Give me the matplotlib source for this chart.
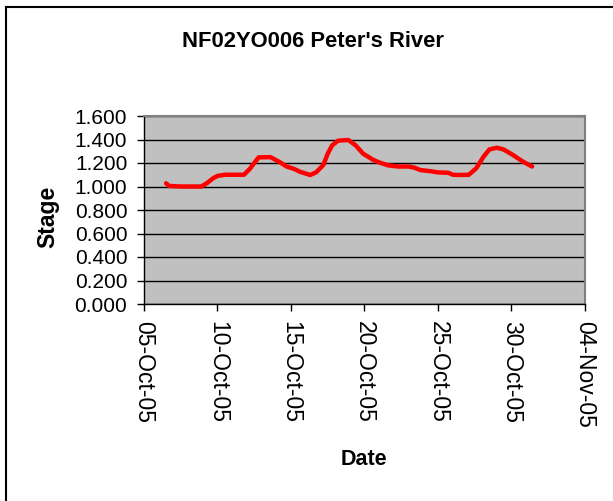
import numpy as np
import pandas as pd
import matplotlib
matplotlib.use("Agg")
import matplotlib.pyplot as plt
import matplotlib.dates as mdates
from matplotlib.lines import Line2D

plt.rcParams['font.family'] = ['Liberation Sans', 'DejaVu Sans']

# days after 05-Oct-2005 and stage
days = [1.5, 1.7, 2.5, 3.5, 3.9, 4.3, 4.7, 5.0, 5.5, 6.0, 6.8, 7.2, 7.5, 7.8,
        8.6, 9.2, 9.7, 10.2, 10.6, 11.0, 11.3, 11.7, 12.2, 12.5, 12.8, 13.2,
        13.9, 14.4, 14.9, 15.6, 16.0, 16.6, 17.3, 18.0, 18.4, 18.8, 19.5,
        20.0, 20.7, 21.0, 21.5, 22.1, 22.6, 23.1, 23.5, 24.0, 24.45, 25.1,
        25.8, 26.4]
stage = [1.027, 1.005, 1.0, 1.0, 1.0, 1.03, 1.07, 1.09, 1.1, 1.1, 1.1, 1.15,
         1.2, 1.248, 1.25, 1.21, 1.17, 1.15, 1.126, 1.11, 1.098, 1.12, 1.183,
         1.28, 1.35, 1.39, 1.396, 1.35, 1.28, 1.226, 1.205, 1.18, 1.17, 1.17,
         1.16, 1.14, 1.13, 1.12, 1.117, 1.1, 1.098, 1.1, 1.155, 1.254, 1.316,
         1.33, 1.316, 1.268, 1.21, 1.17]

start = pd.Timestamp("2005-10-05")
dates = [start + pd.Timedelta(days=d) for d in days]
tick_dates = pd.date_range("2005-10-05", "2005-11-04", freq="5D")
y_ticks = np.arange(0, 1.61, 0.2)

fig = plt.figure(figsize=(6.13, 5.01), dpi=100)
ax = fig.add_axes([144/613, 1 - 304/501, 441/613, 188/501])
ax.set_facecolor("#c0c0c0")

ax.plot(dates, stage, color="red", lw=3.2, solid_capstyle="round",
        solid_joinstyle="round", zorder=3)

ax.set_xlim(tick_dates[0], tick_dates[-1])
ax.set_ylim(0, 1.6)
ax.set_xticks(tick_dates)
ax.xaxis.set_major_formatter(mdates.DateFormatter("%d-%b-%y"))
ax.set_yticks(y_ticks)
ax.set_yticklabels([f"{v:.3f}" for v in y_ticks])
ax.tick_params(axis="x", labelsize=16.5, rotation=270, direction="out",
               length=5, width=1, pad=7)
ax.tick_params(axis="y", labelsize=15, direction="out", length=5, width=1,
               pad=7)
for lab in ax.get_xticklabels():
    lab.set_va("top")
    lab.set_ha("center")

ax.grid(axis="y", color="black", lw=1)
ax.set_axisbelow(True)
for s in ("top", "right"):
    ax.spines[s].set_color("#808080")
    ax.spines[s].set_linewidth(1.5)
for s in ("left", "bottom"):
    ax.spines[s].set_color("black")
    ax.spines[s].set_linewidth(1)

fig.text(313/613, 1 - 47/501, "NF02YO006 Peter's River", ha="center",
         va="baseline", fontsize=15.8, fontweight="bold")
fig.text(47.5/613, 1 - 217/501, "Stage", ha="center", va="center",
         rotation=90, fontsize=16.5, fontweight="bold")
fig.text(364/613, 1 - 465/501, "Date", ha="center", va="baseline",
         fontsize=15.5, fontweight="bold")

# chart area border (left and top edges visible)
fig.add_artist(Line2D([6/613, 6/613], [0, 1 - 7/501], color="black", lw=1.5,
                      transform=fig.transFigure))
fig.add_artist(Line2D([6/613, 1], [1 - 7/501, 1 - 7/501], color="black",
                      lw=1.5, transform=fig.transFigure))

fig.savefig("out.png", dpi=100)
